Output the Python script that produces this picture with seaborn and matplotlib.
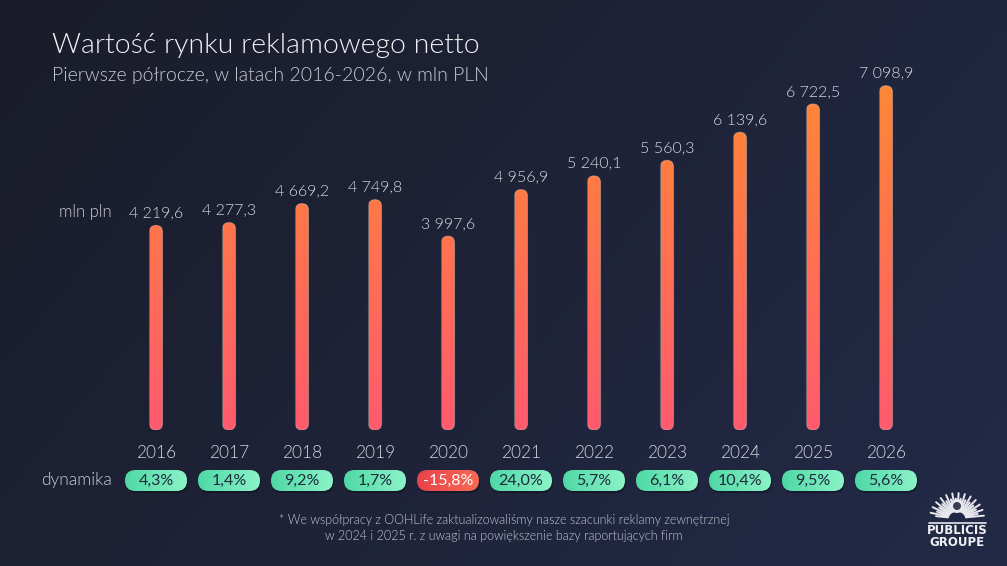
import numpy as np
import pandas as pd
import matplotlib
matplotlib.use("Agg")
import matplotlib.pyplot as plt
from matplotlib.colors import LinearSegmentedColormap
from matplotlib.patches import FancyBboxPatch
import seaborn as sns

# ---- data ----
years = ["2016", "2017", "2018", "2019", "2020", "2021", "2022", "2023", "2024", "2025", "2026"]
values = [4219.6, 4277.3, 4669.2, 4749.8, 3997.6, 4956.9, 5240.1, 5560.3, 6139.6, 6722.5, 7098.9]
dynamics = [4.3, 1.4, 9.2, 1.7, -15.8, 24.0, 5.7, 6.1, 10.4, 9.5, 5.6]

title = "Wartość rynku reklamowego netto"
subtitle = "Pierwsze półrocze, w latach 2016-2026, w mln PLN"
unit_label = "mln pln"
dyn_label = "dynamika"
footnote = ("* We współpracy z OOHLife zaktualizowaliśmy nasze szacunki reklamy zewnętrznej\n"
            "w 2024 i 2025 r. z uwagi na powiększenie bazy raportujących firm")

df = pd.DataFrame({"year": years, "value": values})

sns.set_theme(style="white")
FONT = ["Lato", "DejaVu Sans"]
plt.rcParams["font.family"] = FONT
plt.rcParams["font.weight"] = 300

W, H = 1007, 566
fig = plt.figure(figsize=(W / 100, H / 100), dpi=100)

# ---- background gradient ----
bg = fig.add_axes([0, 0, 1, 1])
bg.set_axis_off()
gx = np.linspace(0, 1, 400)[None, :]
gy = np.linspace(0, 1, 300)[:, None]
c_tl = np.array([0x1a, 0x1c, 0x29]) / 255
c_br = np.array([0x22, 0x29, 0x45]) / 255
t = np.clip(0.75 * gx + 0.35 * gy, 0, 1)[..., None]
img = c_tl * (1 - t) + c_br * t
bg.imshow(img, extent=(0, 1, 0, 1), aspect="auto", origin="upper")
bg.set_xlim(0, 1)
bg.set_ylim(0, 1)

# ---- main bar axes ----
px_per_unit = 0.0485
ax_left, ax_bottom_px, ax_w, ax_h = 119.5, 430, 803, 390
ymax = ax_h / px_per_unit
ax = fig.add_axes([ax_left / W, (H - ax_bottom_px) / H, ax_w / W, ax_h / H])
ax.set_facecolor("none")
sns.barplot(data=df, x="year", y="value", ax=ax, width=0.178, color="#ff7040", edgecolor="none")
ax.set_xlim(-0.5, len(years) - 0.5)
ax.set_ylim(0, ymax)
for s in ax.spines.values():
    s.set_visible(False)
ax.set_yticks([])
ax.set_ylabel("")
ax.set_xlabel("")
ax.tick_params(axis="x", length=0, pad=11, labelsize=12.5, labelcolor="#d3d5de")

fig.canvas.draw()
(x0, y0), (x1, y1) = ax.transData.transform([(0, 0), (1, 1)])
aspect = (1 / (y1 - y0)) / (1 / (x1 - x0))

cmap = LinearSegmentedColormap.from_list("bar", ["#ff5a6e", "#ff6a5a", "#ff7a45", "#ff8a33"])
grad = np.linspace(0, 1, 256)[:, None]
patches = list(ax.patches)
for p in patches:
    x, w, h = p.get_x(), p.get_width(), p.get_height()
    p.set_visible(False)
    r = w / 2
    shape = FancyBboxPatch((x, 0), w, h, boxstyle=f"round,pad=0,rounding_size={r}",
                           mutation_aspect=aspect, facecolor="none", edgecolor="none",
                           transform=ax.transData)
    ax.add_patch(shape)
    im = ax.imshow(grad * (h / 7500.0), extent=(x, x + w, 0, h), origin="lower", aspect="auto",
                   cmap=cmap, vmin=0, vmax=1, zorder=3)
    im.set_clip_path(shape)
    edge = FancyBboxPatch((x, 0), w, h, boxstyle=f"round,pad=0,rounding_size={r}",
                          mutation_aspect=aspect, facecolor="none", edgecolor=(1, 0.85, 0.75, 0.35),
                          linewidth=0.8, zorder=4)
    ax.add_patch(edge)
ax.set_xlim(-0.5, len(years) - 0.5)
ax.set_ylim(0, ymax)


def fmt(v):
    return f"{v:,.1f}".replace(",", " ").replace(".", ",")


for i, v in enumerate(values):
    ax.annotate(fmt(v), (i, v), xytext=(0, 6), textcoords="offset points", ha="center",
                va="baseline", fontsize=11.5, color="#d8dae2", zorder=5)

# ---- overlay (pixel coordinates) for texts, badges ----
ov = fig.add_axes([0, 0, 1, 1], facecolor="none")
ov.set_xlim(0, W)
ov.set_ylim(H, 0)
ov.set_axis_off()

ov.text(52, 46, title, fontsize=20.5, color="#f2f2f5", va="center", ha="left")
ov.text(52, 75, subtitle, fontsize=14, color="#c9ccd6", va="center", ha="left")

first_label_y = H - ax.transData.transform((0, values[0]))[1] - 13
ov.text(112, first_label_y, unit_label, fontsize=12, color="#c9ccd6", ha="right", va="center")

ov.text(112, 480.5, dyn_label, fontsize=12.5, color="#c9ccd6", ha="right", va="center")

green = LinearSegmentedColormap.from_list("g", ["#4fd8a6", "#8cf3c8"])
red = LinearSegmentedColormap.from_list("r", ["#e8434a", "#f86a55"])
bw, bh = 62, 21
hgrad = np.linspace(0, 1, 128)[None, :]
for i, d in enumerate(dynamics):
    cx = ax.transData.transform((i, 0))[0]
    cy = 480.5
    box = FancyBboxPatch((cx - bw / 2, cy - bh / 2), bw, bh,
                         boxstyle=f"round,pad=0,rounding_size={bh / 2}",
                         facecolor="none", edgecolor="none")
    ov.add_patch(box)
    shadow = FancyBboxPatch((cx - bw / 2 + 1, cy - bh / 2 + 2), bw, bh,
                            boxstyle=f"round,pad=0,rounding_size={bh / 2}",
                            facecolor=(0, 0, 0, 0.3), edgecolor="none", zorder=1)
    ov.add_patch(shadow)
    cm = red if d < 0 else green
    im = ov.imshow(hgrad, extent=(cx - bw / 2, cx + bw / 2, cy + bh / 2, cy - bh / 2),
                   aspect="auto", cmap=cm, vmin=0, vmax=1, zorder=2)
    im.set_clip_path(box)
    label = f"{d:.1f}%".replace(".", ",")
    ov.text(cx, cy + 0.5, label, fontsize=11.5, ha="center", va="center", zorder=3,
            fontweight="normal", color="#ffffff" if d < 0 else "#1d2a3c")

ov.text(504, 528, footnote, fontsize=9, color="#c3c6d0", ha="center", va="center",
        linespacing=1.45, multialignment="center")

# ---- logo (decorative) ----
lx, ly = 957, 518
ang = np.linspace(np.pi * 0.03, np.pi * 0.97, 26)
for k, a in enumerate(ang):
    rr = 1.0 if k % 2 == 0 else 0.78
    ov.plot([lx + 9 * np.cos(a), lx + 27 * rr * np.cos(a)],
            [ly - 7 * np.sin(a), ly - 25 * rr * np.sin(a)],
            color="#e8e8ee", lw=1.4, solid_capstyle="round")
ov.add_patch(plt.Circle((lx, ly - 12), 7, facecolor="#e8e8ee", edgecolor="none", zorder=3))
ov.add_patch(plt.Circle((lx, ly - 12), 4, facecolor="#3a3f55", edgecolor="none", zorder=4))
ov.plot([929, 986], [523, 523], color="#e8e8ee", lw=1.2)
ov.text(957, 531, "PUBLICIS", fontsize=8.5, fontweight="bold", color="#f0f0f4",
        ha="center", va="center", family=["DejaVu Sans"])
ov.text(957, 543, "GROUPE", fontsize=8.5, fontweight="bold", color="#f0f0f4",
        ha="center", va="center", family=["DejaVu Sans"])

fig.savefig("out.png", dpi=100)
